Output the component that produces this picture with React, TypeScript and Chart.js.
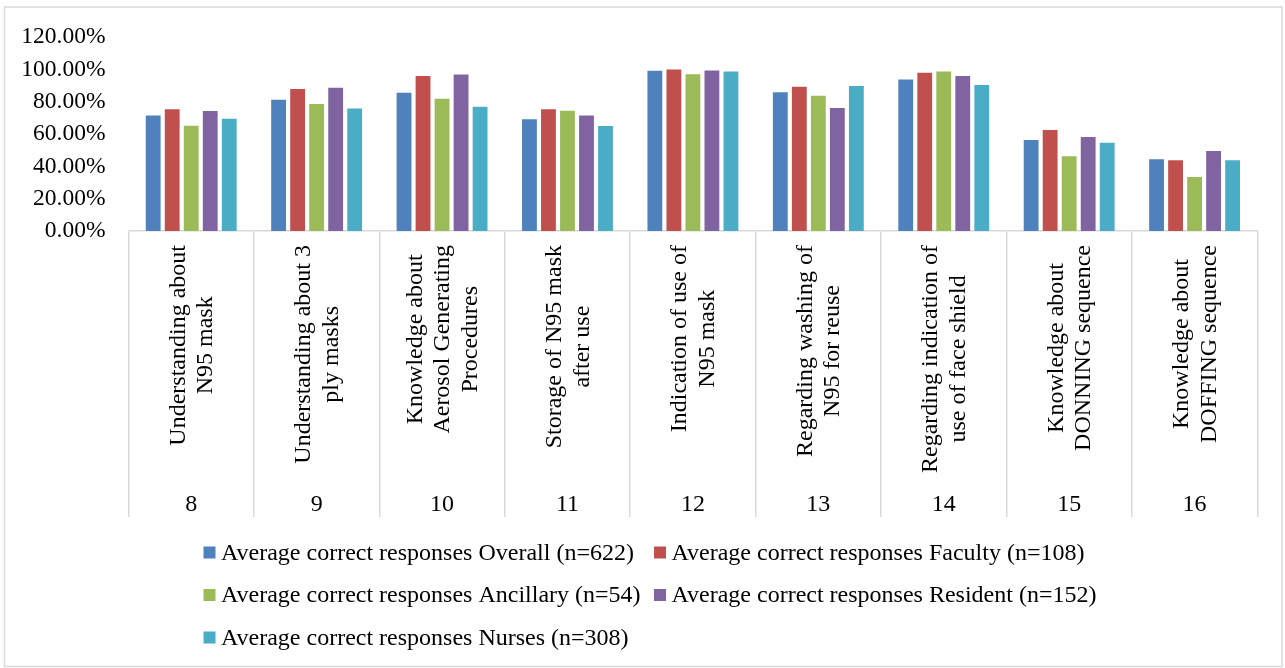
import React, { useEffect, useRef } from "react";
import { Chart, registerables } from "chart.js";

Chart.register(...registerables);

const FONT = "'Liberation Serif', 'Times New Roman', serif";
const TICK_FONT_SIZE = 23.5;
const LABEL_FONT_SIZE = 24;

const questionNumbers = ["8", "9", "10", "11", "12", "13", "14", "15", "16"];
const questionLabels: string[][] = [
  ["Understanding about", "N95 mask"],
  ["Understanding about 3", "ply masks"],
  ["Knowledge about", "Aerosol Generating", "Procedures"],
  ["Storage of N95 mask", "after use"],
  ["Indication of use of", "N95 mask"],
  ["Regarding washing of", "N95 for reuse"],
  ["Regarding indication of", "use of face shield"],
  ["Knowledge about", "DONNING sequence"],
  ["Knowledge about", "DOFFING sequence"],
];

const seriesNames = [
  "Average correct responses Overall (n=622)",
  "Average correct responses Faculty (n=108)",
  "Average correct responses Ancillary (n=54)",
  "Average correct responses Resident (n=152)",
  "Average correct responses Nurses (n=308)",
];
const seriesColors = ["#4F81BD", "#C0504D", "#9BBB59", "#8064A2", "#4BACC6"];

const overall = [71.6, 81.3, 85.7, 69.3, 99.2, 85.9, 93.8, 56.3, 44.4];
const faculty = [75.5, 88.0, 96.1, 75.5, 100.0, 89.4, 98.1, 62.5, 43.8];
const ancillary = [65.2, 78.7, 82.0, 74.5, 97.1, 83.8, 98.8, 46.3, 33.4];
const resident = [74.3, 88.8, 96.9, 71.6, 99.4, 76.2, 96.1, 58.3, 49.6];
const nurses = [69.5, 75.9, 77.0, 65.0, 98.8, 89.9, 90.5, 54.6, 43.8];

const seriesValues = [overall, faculty, ancillary, resident, nurses];

const yTickValues = [0, 20, 40, 60, 80, 100, 120];

const framePlugin = {
  id: "frame",
  beforeDraw(chart: any) {
    const ctx = chart.ctx;
    ctx.save();
    ctx.fillStyle = "#ffffff";
    ctx.fillRect(0, 0, chart.width, chart.height);
    ctx.strokeStyle = "#d9d9d9";
    ctx.lineWidth = 1.5;
    ctx.strokeRect(4.5, 7, chart.width - 7.5, chart.height - 8.5);
    ctx.restore();
  },
};

const categoryLabelPlugin = {
  id: "categoryLabels",
  afterDraw(chart: any) {
    const ctx = chart.ctx;
    const xs = chart.scales.x;
    ctx.save();
    ctx.fillStyle = "#000000";
    ctx.font = `${LABEL_FONT_SIZE}px ${FONT}`;
    const lineH = 27.5;
    questionLabels.forEach((lines, i) => {
      const cx = xs.getPixelForValue(i);
      const maxW = Math.max(...lines.map((l) => ctx.measureText(l).width));
      ctx.save();
      ctx.translate(cx, xs.top + 14);
      ctx.rotate(-Math.PI / 2);
      ctx.textAlign = "center";
      ctx.textBaseline = "middle";
      lines.forEach((l, j) => {
        const off = (j - (lines.length - 1) / 2) * lineH + 1;
        ctx.fillText(l, -maxW / 2, off);
      });
      ctx.restore();
      ctx.textAlign = "center";
      ctx.textBaseline = "middle";
      ctx.fillText(questionNumbers[i], cx, xs.top + 274);
    });
    ctx.restore();
  },
};

const legendPlugin = {
  id: "gridLegend",
  afterDraw(chart: any) {
    const ctx = chart.ctx;
    const colX = [203.5, 654];
    const rowY = [552.5, 595, 637.5];
    ctx.save();
    ctx.font = `${LABEL_FONT_SIZE}px ${FONT}`;
    ctx.textBaseline = "middle";
    ctx.textAlign = "left";
    chart.data.datasets.forEach((ds: any, i: number) => {
      const x = colX[i % 2];
      const y = rowY[Math.floor(i / 2)];
      ctx.fillStyle = ds.backgroundColor;
      ctx.fillRect(x, y - 6, 12, 12);
      ctx.fillStyle = "#000000";
      ctx.fillText(ds.label, x + 17.5, y + 1);
    });
    ctx.restore();
  },
};

export default function App() {
  const canvasRef = useRef<HTMLCanvasElement | null>(null);

  useEffect(() => {
    if (!canvasRef.current) return;
    Chart.defaults.font.family = FONT;
    const chart = new Chart(canvasRef.current, {
      type: "bar",
      data: {
        labels: questionNumbers,
        datasets: seriesNames.map((name, i) => ({
          label: name,
          data: seriesValues[i],
          backgroundColor: seriesColors[i],
          borderWidth: 0,
          barPercentage: 0.78,
          categoryPercentage: 0.758,
        })),
      },
      options: {
        responsive: false,
        animation: false,
        layout: { padding: { left: 0, right: 27.7, top: 37.3, bottom: 151 } },
        plugins: {
          legend: { display: false },
          tooltip: { enabled: false },
        },
        scales: {
          x: {
            grid: {
              offset: true,
              drawOnChartArea: false,
              drawTicks: true,
              tickLength: 286,
              color: "#d9d9d9",
              lineWidth: 1.5,
            },
            border: { display: true, color: "#d9d9d9", width: 1.5 },
            ticks: { display: false },
            afterFit: (s: any) => {
              s.height = 286;
            },
          },
          y: {
            min: 0,
            max: 120,
            afterBuildTicks: (s: any) => {
              s.ticks = yTickValues.map((v) => ({ value: v }));
            },
            grid: { display: false, drawTicks: false },
            border: { display: false },
            ticks: {
              color: "#000000",
              font: { size: TICK_FONT_SIZE, family: FONT },
              padding: 23,
              callback: (v: any) => Number(v).toFixed(2) + "%",
            },
            afterFit: (s: any) => {
              s.width = 128.5;
            },
          },
        },
      },
      plugins: [framePlugin, categoryLabelPlugin, legendPlugin],
    });
    return () => chart.destroy();
  }, []);

  return (
    <div style={{ position: "absolute", left: 0, top: 0, width: 1285, height: 668 }}>
      <canvas ref={canvasRef} width={1285} height={668} style={{ width: 1285, height: 668 }} />
    </div>
  );
}
